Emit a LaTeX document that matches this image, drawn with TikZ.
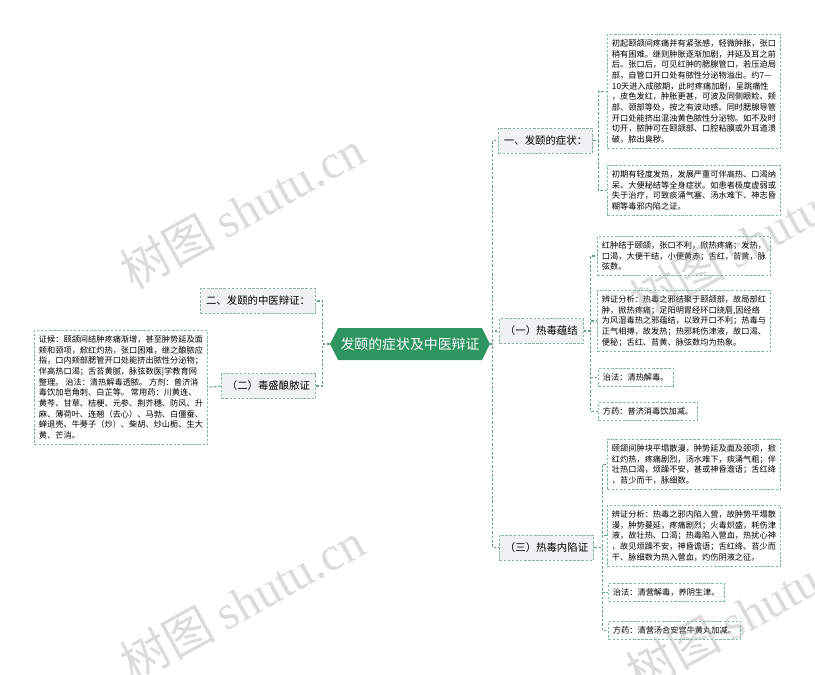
\documentclass[tikz,border=0pt]{standalone}
\usepackage{fontspec}
\setmainfont{Noto Sans CJK SC}
\newfontfamily\wmlatin{Liberation Serif}
\usetikzlibrary{shapes.symbols,calc}
\definecolor{leafc}{HTML}{7DBC9E}
\definecolor{connc}{HTML}{5DA583}
\definecolor{lvlc}{HTML}{8FB3A3}
\definecolor{lvlfill}{HTML}{EEF2F2}
\definecolor{centerfill}{HTML}{2E9460}
\definecolor{wmc}{HTML}{A8A8A8}
\pgfdeclarelayer{bg}
\pgfsetlayers{bg,main}
\begin{document}
\begin{tikzpicture}[x=1pt,y=-1pt,
  leaf/.style={draw=leafc, line width=0.9pt, dash pattern=on 2.5pt off 1.6pt, fill=white,
    inner xsep=4.5pt, inner ysep=5pt, align=left, anchor=north west,
    font=\fontsize{8.2}{10.7}\selectfont},
  lvl/.style={draw=lvlc, line width=0.9pt, dash pattern=on 2.5pt off 1.6pt, fill=lvlfill,
    inner xsep=5.5pt, inner ysep=0pt, minimum height=25pt, font=\fontsize{10.4}{12}\selectfont},
  conn/.style={draw=connc, line width=1.1pt, dash pattern=on 2.6pt off 1.8pt},
  wm/.style={rotate=29, text=wmc, text opacity=0.4, font=\fontsize{48}{52}\selectfont, inner sep=0pt}
]
\useasboundingbox (0,0) rectangle (815,675);
\begin{pgfonlayer}{bg}
\fill[white] (0,0) rectangle (815,675);
\end{pgfonlayer}

% center
\node[signal, signal to=east and west, signal pointer angle=127, fill=centerfill, text=white,
  inner xsep=2.5pt, inner ysep=0pt, minimum height=32pt, font=\fontsize{13.9}{16}\selectfont]
  (c) at (410,344) {发颐的症状及中医辩证};

% level 1
\node[lvl, anchor=west] (n1) at (498,140.5) {一、发颐的症状：};
\node[lvl, anchor=west] (n11) at (499,331) {（一）热毒蕴结};
\node[lvl, anchor=west] (n13) at (499,547.5) {（三）热毒内陷证};
\node[lvl, anchor=east] (n2) at (316,301) {二、发颐的中医辩证：};
\node[lvl, anchor=east] (n12) at (316,386) {（二）毒盛酿脓证};

% leaves
\node[leaf] (b1) at (607,34) {初起颐颌间疼痛并有紧张感，轻微肿胀，张口\\
稍有困难。继则肿胀逐渐加剧，并延及耳之前\\
后。张口后，可见红肿的腮腺管口，若压迫局\\
部，自管口开口处有脓性分泌物溢出。约7—\\
10天进入成脓期，此时疼痛加剧，呈跳痛性\\
，皮色发红，肿胀更甚，可波及同侧眼睑、颊\\
部、颈部等处，按之有波动感。同时腮腺导管\\
开口处能挤出混浊黄色脓性分泌物。如不及时\\
切开，脓肿可在颐颌部、口腔粘膜或外耳道溃\\
破，脓出臭秽。};
\node[leaf] (b2) at (607,165) {初期有轻度发热，发展严重可伴高热、口渴纳\\
呆、大便秘结等全身症状。如患者极度虚弱或\\
失于治疗，可致痰涌气塞、汤水难下、神志昏\\
糊等毒邪内陷之证。};
\node[leaf] (b3) at (597,236) {红肿结于颐颌，张口不利，掀热疼痛；发热，\\
口渴，大便干结，小便黄赤；舌红，苔黄，脉\\
弦数。};
\node[leaf] (b4) at (597,290) {辨证分析：热毒之邪结聚于颐颌部，故局部红\\
肿，掀热疼痛；足阳明胃经环口绕唇,因经络\\
为风湿毒热之邪蕴结，以致开口不利；热毒与\\
正气相搏，故发热；热邪耗伤津液，故口渴、\\
便秘；舌红、苔黄、脉弦数均为热象。};
\node[leaf] (b5) at (598,368) {治法：清热解毒。};
\node[leaf] (b6) at (598,402) {方药：普济消毒饮加减。};
\node[leaf] (b7) at (607,439) {颐颌间肿块平塌散漫，肿势延及面及颈项，掀\\
红灼热，疼痛剧烈，汤水难下，痰涌气粗；伴\\
壮热口渴，烦躁不安，甚或神昏澹语；舌红绛\\
，苔少而干，脉细数。};
\node[leaf] (b8) at (607,505) {辨证分析：热毒之邪内陷入营，故肿势平塌散\\
漫，肿势蔓延，疼痛剧烈；火毒炽盛，耗伤津\\
液，故壮热、口渴；热毒陷入营血，热扰心神\\
，故见烦躁不安，神昏谵语；舌红绛、苔少而\\
干、脉细数为热入营血，灼伤阴液之征。};
\node[leaf] (b9) at (608,583) {治法：清营解毒，养阴生津。};
\node[leaf] (b10) at (608,621) {方药：清营汤合安宫牛黄丸加减。};
\node[leaf] (lb) at (34,330) {证候：颐颌间结肿疼痛渐增，甚至肿势延及面\\
颊和颈项，焮红灼热，张口困难，继之酿脓应\\
指，口内颊部腮管开口处能挤出脓性分泌物；\\
伴高热口渴；舌苔黄腻，脉弦数医|学教育网\\
整理。 治法：清热解毒透脓。 方剂：普济消\\
毒饮加皂角刺、白芷等。 常用药：川黄连、\\
黄芩、甘草、桔梗、元参、荆芥穗、防风、升\\
麻、薄荷叶、连翘（去心）、马勃、白僵蚕、\\
蝉退壳、牛蒡子（炒）、柴胡、炒山栀、生大\\
黄、芒消。};

% connectors
\begin{pgfonlayer}{bg}
\draw[conn] (c.east) -- ++(2,0) |- (n1.west);
\draw[conn] (c.east) -- ++(2,0) |- (n11.west);
\draw[conn] (c.east) -- ++(2,0) |- (n13.west);
\draw[conn] (c.west) -- ++(-7,0) |- (n2.east);
\draw[conn] (c.west) -- ++(-7,0) |- (n12.east);
\draw[conn] (n1.east) -- ++(5,0) |- (b1.west);
\draw[conn] (n1.east) -- ++(5,0) |- (b2.west);
\draw[conn] (n11.east) -- ++(7,0) |- (b3.west);
\draw[conn] (n11.east) -- ++(7,0) |- (b4.west);
\draw[conn] (n11.east) -- ++(7,0) |- (b5.west);
\draw[conn] (n11.east) -- ++(7,0) |- (b6.west);
\draw[conn] (n13.east) -- ++(8,0) |- (b7.west);
\draw[conn] (n13.east) -- ++(8,0) |- (b8.west);
\draw[conn] (n13.east) -- ++(8,0) |- (b9.west);
\draw[conn] (n13.east) -- ++(8,0) |- (b10.west);
\draw[conn] (n12.west) -- (lb.east);
\end{pgfonlayer}

% watermarks
\node[wm] (wm1) at (242,210) {树图 {\wmlatin shutu.cn}};
\node[wm] (wm2) at (242,602) {树图 {\wmlatin shutu.cn}};
\node[wm] (wm3) at (752,240) {树图 {\wmlatin shutu.cn}};
\node[wm] (wm4) at (748,612) {树图 {\wmlatin shutu.cn}};
\end{tikzpicture}
\end{document}
